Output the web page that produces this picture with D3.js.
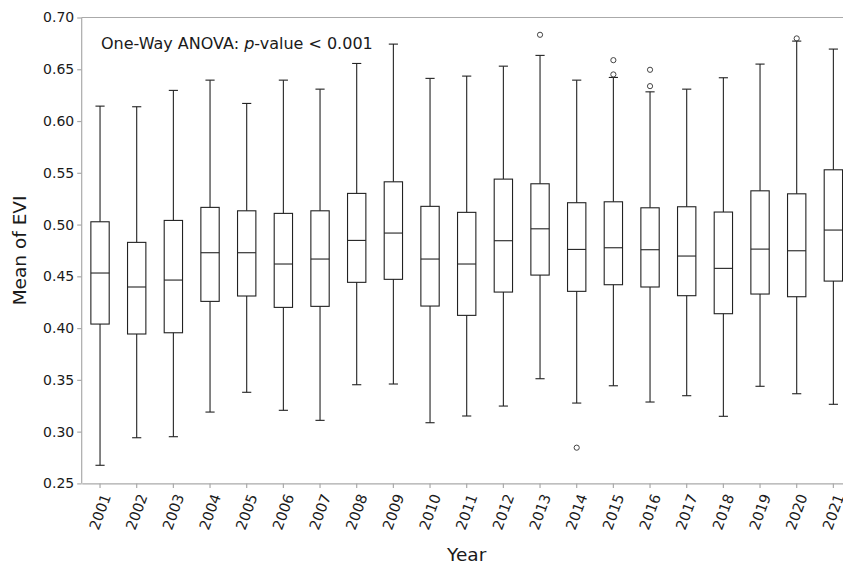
<!DOCTYPE html>
<html>
<head>
<meta charset="utf-8">
<script src="https://cdn.jsdelivr.net/npm/d3@7"></script>
<style>
  body { margin: 0; background: #fff; }
  svg text { font-family: "DejaVu Sans", sans-serif; fill: #1a1a1a; }
</style>
</head>
<body>
<svg id="chart"></svg>
<script>
// values, one entry per year
let years = ["2001", "2002", "2003", "2004", "2005", "2006", "2007", "2008", "2009", "2010", "2011",
    "2012", "2013", "2014", "2015", "2016", "2017", "2018", "2019", "2020", "2021"];
let whiskLow = [0.2675, 0.2941, 0.2951, 0.3189, 0.3380, 0.3206, 0.3109, 0.3453, 0.3460, 0.3086, 0.3151,
    0.3247, 0.3511, 0.3276, 0.3443, 0.3286, 0.3347, 0.3148, 0.3438, 0.3366, 0.3264];
let q1 = [0.4039, 0.3943, 0.3955, 0.4258, 0.4310, 0.4200, 0.4210, 0.4442, 0.4471, 0.4213, 0.4123,
    0.4348, 0.4512, 0.4355, 0.4419, 0.4397, 0.4313, 0.4139, 0.4329, 0.4303, 0.4454];
let medians = [0.4532, 0.4397, 0.4464, 0.4728, 0.4728, 0.4619, 0.4667, 0.4847, 0.4918, 0.4667, 0.4619,
    0.4844, 0.4959, 0.4760, 0.4776, 0.4757, 0.4696, 0.4577, 0.4763, 0.4747, 0.4947];
let q3 = [0.5027, 0.4828, 0.5040, 0.5166, 0.5133, 0.5108, 0.5133, 0.5301, 0.5413, 0.5176, 0.5118,
    0.5439, 0.5394, 0.5211, 0.5220, 0.5162, 0.5172, 0.5121, 0.5326, 0.5297, 0.5529];
let whiskHigh = [0.6144, 0.6138, 0.6296, 0.6395, 0.6170, 0.6395, 0.6308, 0.6556, 0.6743, 0.6412, 0.6434,
    0.6530, 0.6634, 0.6395, 0.6421, 0.6282, 0.6308, 0.6418, 0.6550, 0.6772, 0.6695];
let outliers = [[], [], [], [], [], [], [], [], [], [], [],
    [], [0.6833], [0.2845], [0.6588, 0.6450], [0.6495, 0.6337], [], [], [], [0.6798], []];
let yTicks = [0.25, 0.30, 0.35, 0.40, 0.45, 0.50, 0.55, 0.60, 0.65, 0.70];

let width = 843,
    height = 566;
let plotL = 81.7, plotR = 851.7, plotT = 17.5, plotB = 483.4;

let svg = d3.select('#chart')
    .attr('width', width)
    .attr('height', height);

let x = d3.scaleBand()
    .domain(years)
    .range([plotL, plotR]);

let y = d3.scaleLinear()
    .domain([0.25, 0.70])
    .range([plotB, plotT]);

let boxW = x.bandwidth() * 0.5;
let capW = boxW * 0.5;

let rows = years.map((yr, i) => ({
    year: yr, lo: whiskLow[i], q1: q1[i], med: medians[i], q3: q3[i], hi: whiskHigh[i], out: outliers[i]
}));

// spines
let spine = '#aaaaaa';
svg.append('line').attr('x1', plotL).attr('x2', plotR).attr('y1', plotT).attr('y2', plotT)
    .attr('stroke', spine).attr('stroke-width', 1.2);
svg.append('line').attr('x1', plotR).attr('x2', plotR).attr('y1', plotT).attr('y2', plotB)
    .attr('stroke', spine).attr('stroke-width', 1.2);

// axes
let yAxis = svg.append('g')
    .attr('transform', 'translate(' + plotL + ',0)')
    .call(d3.axisLeft(y).tickValues(yTicks).tickFormat(d3.format('.2f')).tickSize(4.5).tickPadding(3));

let xAxis = svg.append('g')
    .attr('transform', 'translate(0,' + plotB + ')')
    .call(d3.axisBottom(x).tickSize(4.5).tickSizeOuter(0));

[yAxis, xAxis].forEach(g => {
    g.select('.domain').attr('stroke', spine).attr('stroke-width', 1.2);
    g.selectAll('.tick line').attr('stroke', spine).attr('stroke-width', 1.2);
    g.selectAll('.tick text').attr('font-size', 14).attr('fill', '#1a1a1a')
        .attr('font-family', '"DejaVu Sans", sans-serif');
});
yAxis.select('.domain').attr('d', 'M0,' + plotT + 'V' + plotB);

xAxis.selectAll('.tick text')
    .attr('font-size', 14.5)
    .attr('y', 0)
    .attr('dy', null)
    .attr('text-anchor', 'middle')
    .attr('dominant-baseline', 'central')
    .attr('transform', 'translate(0,28.5) rotate(-70)');

// boxes
let boxes = svg.append('g');
let stroke = '#222', sw = 1.1;

let g = boxes.selectAll('g.box')
    .data(rows).enter()
    .append('g')
    .attr('class', 'box')
    .attr('transform', d => 'translate(' + (x(d.year) + x.bandwidth() / 2) + ',0)');

// whiskers
g.append('line').attr('x1', 0).attr('x2', 0)
    .attr('y1', d => y(d.q3)).attr('y2', d => y(d.hi))
    .attr('stroke', stroke).attr('stroke-width', sw);
g.append('line').attr('x1', 0).attr('x2', 0)
    .attr('y1', d => y(d.q1)).attr('y2', d => y(d.lo))
    .attr('stroke', stroke).attr('stroke-width', sw);
// caps
g.append('line').attr('x1', -capW / 2).attr('x2', capW / 2)
    .attr('y1', d => y(d.hi)).attr('y2', d => y(d.hi))
    .attr('stroke', stroke).attr('stroke-width', sw);
g.append('line').attr('x1', -capW / 2).attr('x2', capW / 2)
    .attr('y1', d => y(d.lo)).attr('y2', d => y(d.lo))
    .attr('stroke', stroke).attr('stroke-width', sw);
// box
g.append('rect')
    .attr('x', -boxW / 2)
    .attr('width', boxW)
    .attr('y', d => y(d.q3))
    .attr('height', d => y(d.q1) - y(d.q3))
    .attr('fill', 'none')
    .attr('stroke', stroke).attr('stroke-width', sw);
// median
g.append('line').attr('x1', -boxW / 2).attr('x2', boxW / 2)
    .attr('y1', d => y(d.med)).attr('y2', d => y(d.med))
    .attr('stroke', stroke).attr('stroke-width', sw);
// fliers
g.selectAll('circle')
    .data(d => d.out).enter()
    .append('circle')
    .attr('cx', 0)
    .attr('cy', v => y(v))
    .attr('r', 2.6)
    .attr('fill', 'none')
    .attr('stroke', '#444')
    .attr('stroke-width', 1);

// annotation
let note = svg.append('text')
    .attr('x', 101)
    .attr('y', 49)
    .attr('font-size', 16);
note.append('tspan').text('One-Way ANOVA: ');
note.append('tspan').attr('font-style', 'italic').text('p');
note.append('tspan').text('-value < 0.001');

// axis titles
svg.append('text')
    .attr('transform', 'translate(26,' + ((plotT + plotB) / 2) + ') rotate(-90)')
    .attr('text-anchor', 'middle')
    .attr('font-size', 18.5)
    .text('Mean of EVI');

svg.append('text')
    .attr('x', (plotL + plotR) / 2)
    .attr('y', 561)
    .attr('text-anchor', 'middle')
    .attr('font-size', 18.5)
    .text('Year');
</script>
</body>
</html>
